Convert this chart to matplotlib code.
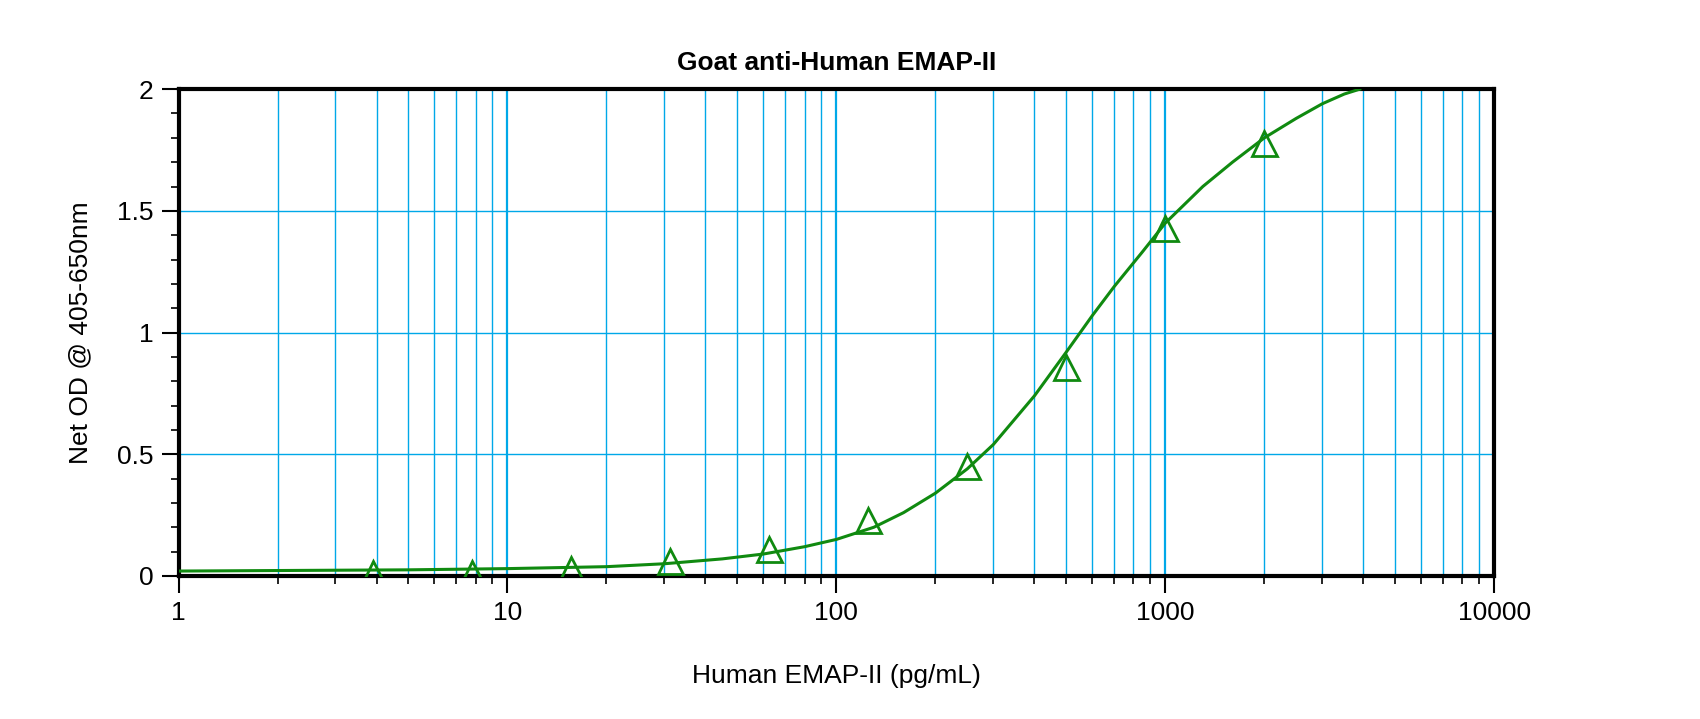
import matplotlib.pyplot as plt
import numpy as np
import matplotlib.ticker as mticker

plt.rcParams['font.family'] = 'Liberation Sans'

# Standards (pg/mL) and net OD
conc = [3.9, 7.8, 15.6, 31.25, 62.5, 125, 250, 500, 1000, 2000]
od = [0.01, 0.01, 0.03, 0.06, 0.11, 0.23, 0.45, 0.86, 1.43, 1.78]

# fitted curve
curve_x = [1, 5, 10, 20, 30, 45, 60, 80, 100, 130, 160, 200, 250, 300, 400, 500,
           600, 700, 850, 1000, 1300, 1600, 2000, 2500, 3000, 3500, 3900]
curve_y = [0.02, 0.025, 0.03, 0.038, 0.05, 0.07, 0.09, 0.12, 0.15, 0.2, 0.26, 0.34,
           0.44, 0.54, 0.74, 0.92, 1.07, 1.19, 1.33, 1.45, 1.6, 1.7, 1.8, 1.88, 1.94, 1.98, 2.0]

blue = '#00A8E8'
green = '#108A10'

fig = plt.figure(figsize=(17, 7.19), dpi=100)
ax = fig.add_axes([0.105, 0.199, 0.774, 0.677])

ax.set_xscale('log')
ax.set_xlim(1, 10000)
ax.set_ylim(0, 2)

for d in [1, 10, 100, 1000]:
    for m in range(1, 10):
        v = d * m
        if v == 1:
            continue
        ax.axvline(v, color=blue, lw=1.6 if m == 1 else 1.0, zorder=0)
for y in [0.5, 1.0, 1.5]:
    ax.axhline(y, color=blue, lw=1.0, zorder=0)

ax.plot(curve_x, curve_y, color=green, lw=2.2, zorder=3)
ax.plot(conc, od, linestyle='none', marker='^', markersize=18, markerfacecolor='none',
        markeredgecolor=green, markeredgewidth=2, zorder=4)

ax.xaxis.set_major_locator(mticker.FixedLocator([1, 10, 100, 1000, 10000]))
ax.xaxis.set_major_formatter(mticker.FuncFormatter(lambda x, p: f'{int(x)}'))
ax.xaxis.set_minor_locator(mticker.LogLocator(subs=np.arange(2, 10)))
ax.xaxis.set_minor_formatter(mticker.NullFormatter())
ax.yaxis.set_major_locator(mticker.MultipleLocator(0.5))
ax.yaxis.set_major_formatter(mticker.FuncFormatter(lambda y, p: f'{y:g}'))
ax.yaxis.set_minor_locator(mticker.MultipleLocator(0.1))

ax.tick_params(which='major', length=12, width=1.5, labelsize=19, pad=6)
ax.tick_params(which='minor', length=6, width=1.2)
for s in ax.spines.values():
    s.set_linewidth(3)

ax.set_title('Goat anti-Human EMAP-II', fontsize=19, fontweight='bold', pad=14)
ax.set_xlabel('Human EMAP-II (pg/mL)', fontsize=19, labelpad=28)
ax.set_ylabel('Net OD @ 405-650nm', fontsize=19, labelpad=18)

fig.savefig('out.png', dpi=100)
